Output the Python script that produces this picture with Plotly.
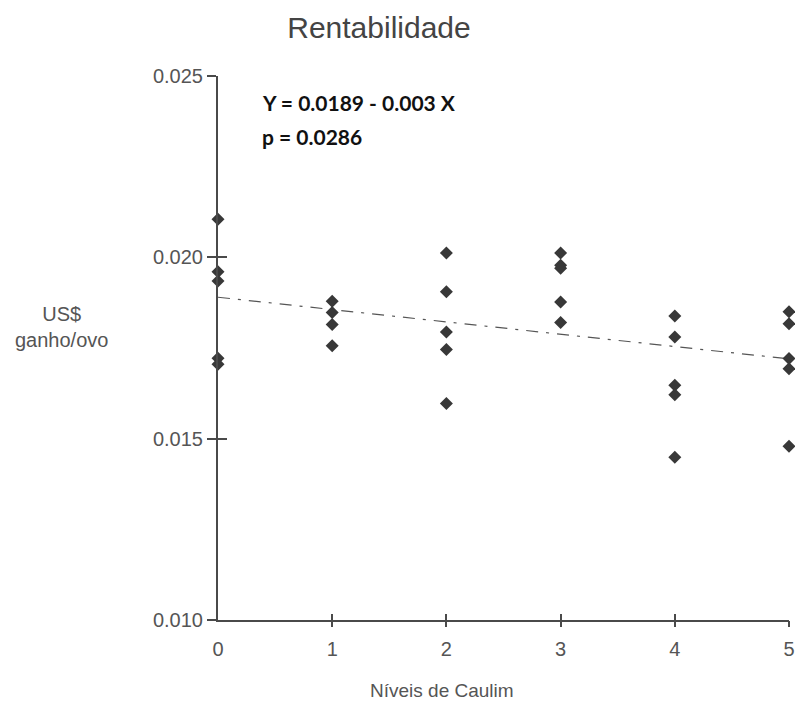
import plotly.graph_objects as go

# Data
niveis = [0, 0, 0, 0, 0,
          1, 1, 1, 1,
          2, 2, 2, 2, 2,
          3, 3, 3, 3, 3,
          4, 4, 4, 4, 4,
          5, 5, 5, 5, 5]
rentab = [0.02105, 0.0196, 0.01935, 0.01722, 0.01705,
          0.01879, 0.01848, 0.01815, 0.01756,
          0.02012, 0.01905, 0.01794, 0.01746, 0.01597,
          0.02012, 0.01978, 0.01970, 0.01877, 0.0182,
          0.01838, 0.0178, 0.01647, 0.01621, 0.01449,
          0.0185, 0.01817, 0.01721, 0.01693, 0.01479]
fit_x = [0, 5]
fit_y = [0.0189, 0.0172]
x_ticks = [0, 1, 2, 3, 4, 5]
y_ticks = [0.010, 0.015, 0.020, 0.025]
y_ticklabels = ["0.010", "0.015", "0.020", "0.025"]

axis_col = "#4a4a4a"
txt_col = "#555555"
font_fam = "Liberation Sans, Arial, sans-serif"

W, H = 795, 702
PL, PR, PT, PB = 218, 789, 76, 620  # plot-area edges in pixels


def px(xr):
    return (xr - PL) / (PR - PL)


def py(yr):
    return (PB - yr) / (PB - PT)


fig = go.Figure()
fig.add_trace(go.Scatter(x=fit_x, y=fit_y, mode="lines",
                         line=dict(color="#555555", width=1.2, dash="12px,8px,3px,8px"),
                         hoverinfo="skip", showlegend=False))
fig.add_trace(go.Scatter(x=niveis, y=rentab, mode="markers",
                         marker=dict(symbol="diamond", size=10, color="#383838"),
                         cliponaxis=False, showlegend=False))
fig.add_trace(go.Scatter(x=[None], y=[None], xaxis="x2", yaxis="y2", showlegend=False))
fig.add_trace(go.Scatter(x=[None], y=[None], xaxis="x3", yaxis="y3", showlegend=False))

common_x = dict(range=[0, 5], showgrid=False, zeroline=False, fixedrange=True, automargin=False)
common_y = dict(range=[0.010, 0.025], showgrid=False, zeroline=False, fixedrange=True, automargin=False)

fig.update_layout(
    width=W, height=H,
    margin=dict(l=PL, r=W - PR, t=PT, b=H - PB, autoexpand=False),
    paper_bgcolor="white", plot_bgcolor="white",
    font=dict(family=font_fam, color=txt_col, size=20),
    title=dict(text="Rentabilidade", x=379 / W, xanchor="center",
               y=1 - 27 / H, yanchor="middle",
               font=dict(size=30, color="#444444", family=font_fam)),
    xaxis=dict(**common_x, tickmode="array", tickvals=x_ticks,
               ticktext=[str(v) for v in x_ticks], ticks="", ticklabelstandoff=10,
               ticklabeloverflow="allow",
               showline=True, linecolor=axis_col, linewidth=2,
               tickfont=dict(size=20, color=txt_col)),
    yaxis=dict(**common_y, tickmode="array", tickvals=y_ticks, ticktext=y_ticklabels,
               ticks="outside", ticklen=9, tickwidth=1.5, tickcolor=axis_col,
               showline=True, linecolor=axis_col, linewidth=2,
               tickfont=dict(size=20, color=txt_col)),
    xaxis2=dict(**common_x, overlaying="x", anchor="y2", tickmode="array",
                tickvals=x_ticks[1:], ticks="outside", ticklen=6, tickwidth=1.5,
                tickcolor=axis_col, showticklabels=False, showline=False),
    yaxis2=dict(**common_y, overlaying="y", anchor="x2", tickmode="array",
                tickvals=y_ticks, ticks="inside", ticklen=9, tickwidth=1.5,
                tickcolor=axis_col, showticklabels=False, showline=False),
    xaxis3=dict(**common_x, overlaying="x", anchor="y3", tickmode="array",
                tickvals=x_ticks[1:], ticks="inside", ticklen=6, tickwidth=1.5,
                tickcolor=axis_col, showticklabels=False, showline=False),
    yaxis3=dict(**common_y, overlaying="y", anchor="x3", showticklabels=False,
                ticks="", showline=False),
    annotations=[
        dict(text="US$<br>ganho/ovo", xref="paper", yref="paper",
             x=px(61), y=py(327), xanchor="center", yanchor="middle",
             showarrow=False, font=dict(size=20, color=txt_col, family=font_fam)),
        dict(text="Níveis de Caulim", xref="paper", yref="paper",
             x=px(368), y=py(690), xanchor="left", yanchor="middle",
             showarrow=False, font=dict(size=19, color=txt_col, family=font_fam)),
        dict(text="<b>Y = 0.0189 - 0.003 X</b>", xref="paper", yref="paper",
             x=px(260), y=py(102), xanchor="left", yanchor="middle",
             showarrow=False, font=dict(size=21, color="#111111", family="Lato, Open Sans, sans-serif")),
        dict(text="<b>p = 0.0286</b>", xref="paper", yref="paper",
             x=px(260), y=py(136), xanchor="left", yanchor="middle",
             showarrow=False, font=dict(size=21, color="#111111", family="Lato, Open Sans, sans-serif")),
    ],
)

# remove the default 8px page margin so the 795x702 figure fills the window exactly
fig.write_html("out.html", config={"displayModeBar": False},
               post_script="document.body.style.margin='0';")
